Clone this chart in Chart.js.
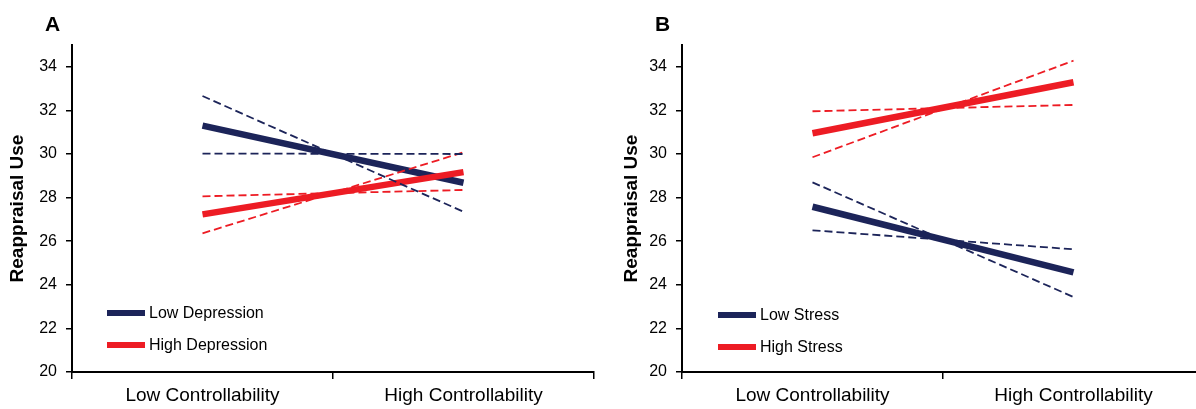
<!DOCTYPE html>
<html lang="en">
<head>
  <meta charset="UTF-8" />
  <title>Reappraisal Use by Controllability</title>
  <script src="https://cdn.jsdelivr.net/npm/chart.js"></script>
  <style>
    body {
      margin: 0;
      width: 1196px;
      height: 409px;
      overflow: hidden;
      position: relative;
      background: #fff;
      font-family: "Liberation Sans", Arial, sans-serif;
    }
    canvas { position: absolute; top: 0; }
    #chartA { left: 0; }
    #chartB { left: 600px; }
    .panel {
      position: absolute;
      font-weight: bold;
      font-size: 21px;
      line-height: 21px;
      top: 13px;
    }
    .key {
      position: absolute;
      font-size: 16px;
      line-height: 18px;
      color: #000;
      white-space: nowrap;
    }
    .key span {
      display: inline-block;
      width: 38px;
      height: 6px;
      margin-right: 4px;
      vertical-align: middle;
      position: relative;
      top: -1px;
    }
  </style>
</head>
<body>

  <canvas id="chartA" width="600" height="409"></canvas>
  <canvas id="chartB" width="610" height="409"></canvas>

  <div class="panel" style="left:45px">A</div>
  <div class="panel" style="left:655px">B</div>

  <!-- legends -->
  <div class="key" style="left:107px; top:304px"><span style="background:#1c2459"></span>Low Depression</div>
  <div class="key" style="left:107px; top:336px"><span style="background:#ed1c24"></span>High Depression</div>
  <div class="key" style="left:718px; top:306px"><span style="background:#1c2459"></span>Low Stress</div>
  <div class="key" style="left:718px; top:338px"><span style="background:#ed1c24"></span>High Stress</div>

  <script>
    // categories
    const conditions = ['Low Controllability', 'High Controllability'];
    const yTicks = [20, 22, 24, 26, 28, 30, 32, 34];

    // panel A - depression
    const lowDepression      = [31.3, 28.68];
    const lowDepressionHi    = [32.66, 27.35];
    const lowDepressionLo    = [30.02, 30.0];
    const highDepression     = [27.23, 29.17];
    const highDepressionHi   = [28.06, 28.35];
    const highDepressionLo   = [26.36, 30.08];

    // panel B - stress
    const lowStress          = [27.58, 24.57];
    const lowStressHi        = [28.7, 23.44];
    const lowStressLo        = [26.5, 25.63];
    const highStress         = [30.95, 33.29];
    const highStressHi       = [31.96, 32.25];
    const highStressLo       = [29.85, 34.28];

    const NAVY = '#1c2459';
    const RED  = '#ed1c24';
    const FONT = '"Liberation Sans", Arial, sans-serif';

    Chart.defaults.font.family = FONT;
    Chart.defaults.color = '#000';

    function solid(label, data, color, order) {
      return { label, data, borderColor: color, backgroundColor: color,
               borderWidth: 6.5, pointRadius: 0, borderCapStyle: 'butt', order };
    }
    function dashed(data, color) {
      return { label: '', data, borderColor: color, borderWidth: 1.8,
               borderDash: [8, 4], pointRadius: 0, order: 0 };
    }

    function makeChart(id, datasets, geom) {
      return new Chart(document.getElementById(id), {
        type: 'line',
        data: { labels: conditions, datasets },
        options: {
          responsive: false,
          animation: false,
          devicePixelRatio: 1,
          layout: { padding: { left: 0, right: geom.padRight, top: 45, bottom: 0 } },
          plugins: { legend: { display: false }, tooltip: { enabled: false } },
          scales: {
            x: {
              offset: true,
              afterFit: s => { s.height = 37; },
              grid: { offset: true, drawOnChartArea: false, tickLength: 7, color: '#000', lineWidth: 1.5 },
              border: { color: '#000', width: 2 },
              ticks: { color: '#000', font: { size: 19 }, padding: 5, maxRotation: 0 }
            },
            y: {
              min: 20,
              max: 35,
              afterBuildTicks: s => { s.ticks = yTicks.map(v => ({ value: v })); },
              afterFit: s => { s.width = geom.yWidth; },
              grid: { drawOnChartArea: false, tickLength: 6, color: '#000', lineWidth: 1.5 },
              border: { color: '#000', width: 2 },
              ticks: { color: '#000', font: { size: 16 }, padding: 9 },
              title: {
                display: true,
                text: 'Reappraisal Use',
                color: '#000',
                font: { size: 19, weight: 'bold' },
                padding: { top: geom.titlePad, bottom: 0 }
              }
            }
          }
        }
      });
    }

    makeChart('chartA', [
      dashed(lowDepressionHi, NAVY),
      dashed(lowDepressionLo, NAVY),
      dashed(highDepressionHi, RED),
      dashed(highDepressionLo, RED),
      solid('High Depression', highDepression, RED, 1),
      solid('Low Depression', lowDepression, NAVY, 2)
    ], { yWidth: 72, padRight: 6, titlePad: 6 });

    makeChart('chartB', [
      dashed(lowStressHi, NAVY),
      dashed(lowStressLo, NAVY),
      dashed(highStressHi, RED),
      dashed(highStressLo, RED),
      solid('High Stress', highStress, RED, 1),
      solid('Low Stress', lowStress, NAVY, 2)
    ], { yWidth: 82, padRight: 6, titlePad: 20 });
  </script>
</body>
</html>
